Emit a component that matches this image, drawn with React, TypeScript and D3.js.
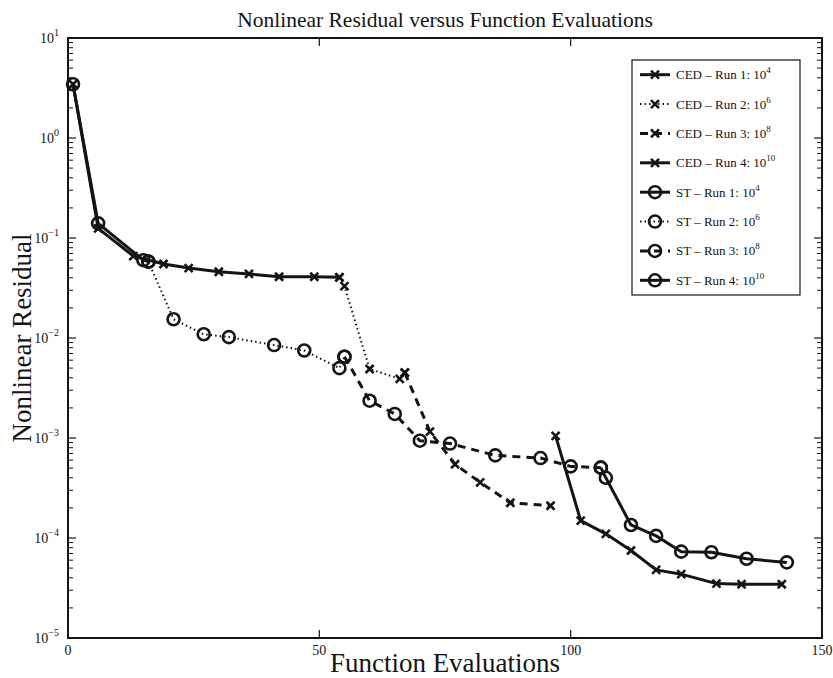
import React from "react";
import * as d3 from "d3";

// Function evaluations (x) and nonlinear residual (y) for every run
const cedRun1Evals = [1, 6, 13, 19, 24, 30, 36, 42, 49, 54];
const cedRun1Resid = [3.45, 0.125, 0.066, 0.055, 0.05, 0.046, 0.0437, 0.041, 0.041, 0.0404];
const cedRun2Evals = [54, 55, 60, 66, 67];
const cedRun2Resid = [0.0404, 0.033, 0.0049, 0.0039, 0.0045];
const cedRun3Evals = [67, 72, 77, 82, 88, 96];
const cedRun3Resid = [0.0045, 0.00116, 0.000546, 0.00036, 0.000225, 0.00021];
const cedRun4Evals = [97, 102, 107, 112, 117, 122, 129, 134, 142];
const cedRun4Resid = [0.00105, 0.000149, 0.00011, 7.5e-5, 4.8e-5, 4.35e-5, 3.5e-5, 3.45e-5, 3.45e-5];

const stRun1Evals = [1, 6, 15, 16];
const stRun1Resid = [3.45, 0.14, 0.06, 0.058];
const stRun2Evals = [16, 21, 27, 32, 41, 47, 54, 55];
const stRun2Resid = [0.058, 0.0154, 0.0109, 0.0102, 0.0085, 0.0075, 0.005, 0.0065];
const stRun3Evals = [55, 60, 65, 70, 76, 85, 94, 100, 106];
const stRun3Resid = [0.0065, 0.00236, 0.00174, 0.00094, 0.00088, 0.00067, 0.00063, 0.00052, 0.000505];
const stRun4Evals = [106, 107, 112, 117, 122, 128, 135, 143];
const stRun4Resid = [0.000505, 0.0004, 0.000135, 0.000105, 7.3e-5, 7.2e-5, 6.2e-5, 5.7e-5];

const runExponents = [4, 6, 8, 10];
const xTicks = [0, 50, 100, 150];
const yDecades = [-5, -4, -3, -2, -1, 0, 1];

const W = 833;
const H = 678;
const M = { left: 68, right: 822, top: 38, bottom: 638 };
const INK = "#141414";
const FONT = "'Liberation Serif', 'Times New Roman', serif";

type Style = "solid" | "dotted" | "dashed";
type Marker = "x" | "o";

interface Series {
  method: string;
  run: number;
  exp: number;
  evals: number[];
  resid: number[];
  style: Style;
  marker: Marker;
}

const styles: Style[] = ["solid", "dotted", "dashed", "solid"];
const cedEvals = [cedRun1Evals, cedRun2Evals, cedRun3Evals, cedRun4Evals];
const cedResid = [cedRun1Resid, cedRun2Resid, cedRun3Resid, cedRun4Resid];
const stEvals = [stRun1Evals, stRun2Evals, stRun3Evals, stRun4Evals];
const stResid = [stRun1Resid, stRun2Resid, stRun3Resid, stRun4Resid];

const series: Series[] = [
  ...cedEvals.map((e, i) => ({
    method: "CED",
    run: i + 1,
    exp: runExponents[i],
    evals: e,
    resid: cedResid[i],
    style: styles[i],
    marker: "x" as Marker,
  })),
  ...stEvals.map((e, i) => ({
    method: "ST",
    run: i + 1,
    exp: runExponents[i],
    evals: e,
    resid: stResid[i],
    style: styles[i],
    marker: "o" as Marker,
  })),
];

function strokeProps(style: Style) {
  if (style === "dotted") return { strokeWidth: 2, strokeDasharray: "1.5,3" };
  if (style === "dashed") return { strokeWidth: 3, strokeDasharray: "8,6" };
  return { strokeWidth: 3, strokeDasharray: undefined };
}

function MarkerGlyph({ kind, cx, cy }: { kind: Marker; cx: number; cy: number }) {
  if (kind === "o") {
    return <circle cx={cx} cy={cy} r={6} fill="none" stroke={INK} strokeWidth={2.6} />;
  }
  const s = 4;
  return (
    <path
      d={`M${cx - s},${cy - s}L${cx + s},${cy + s}M${cx - s},${cy + s}L${cx + s},${cy - s}`}
      stroke={INK}
      strokeWidth={2.6}
      fill="none"
    />
  );
}

export default function App() {
  const x = d3.scaleLinear().domain([0, 150]).range([M.left, M.right]);
  const y = d3.scaleLog().domain([1e-5, 10]).range([M.bottom, M.top]);

  const line = d3
    .line<[number, number]>()
    .x((d) => x(d[0]))
    .y((d) => y(d[1]));

  const minorTicks: number[] = [];
  yDecades.slice(0, -1).forEach((d) => {
    for (let k = 2; k <= 9; k++) minorTicks.push(k * Math.pow(10, d));
  });

  // legend geometry
  const lg = { left: 632, right: 800, top: 60, bottom: 295 };
  const rowStep = (lg.bottom - lg.top) / 8;
  const sample = { x0: 640, x1: 670 };
  const textX = 676;

  return (
    <svg
      width={W}
      height={H}
      style={{ position: "absolute", left: 0, top: 0, background: "#fff" }}
      fontFamily={FONT}
    >
      <rect width={W} height={H} fill="#fff" />

      {/* title */}
      <text x={(M.left + M.right) / 2} y={27} textAnchor="middle" fontSize={21.5} fill={INK}>
        Nonlinear Residual versus Function Evaluations
      </text>

      {/* data lines */}
      {series.map((s, i) => {
        const pts = s.evals.map((e, j) => [e, s.resid[j]] as [number, number]);
        const sp = strokeProps(s.style);
        return (
          <g key={`s${i}`}>
            <path
              d={line(pts) || ""}
              fill="none"
              stroke={INK}
              strokeWidth={sp.strokeWidth}
              strokeDasharray={sp.strokeDasharray}
              strokeLinejoin="round"
            />
            {pts.map((p, j) => (
              <MarkerGlyph key={j} kind={s.marker} cx={x(p[0])} cy={y(p[1])} />
            ))}
          </g>
        );
      })}

      {/* axes frame */}
      <rect
        x={M.left}
        y={M.top}
        width={M.right - M.left}
        height={M.bottom - M.top}
        fill="none"
        stroke={INK}
        strokeWidth={2}
      />

      {/* x ticks */}
      {xTicks.map((t) => (
        <g key={`xt${t}`}>
          <line x1={x(t)} x2={x(t)} y1={M.bottom} y2={M.bottom - 8} stroke={INK} strokeWidth={1.2} />
          <line x1={x(t)} x2={x(t)} y1={M.top} y2={M.top + 8} stroke={INK} strokeWidth={1.2} />
          <text x={x(t)} y={M.bottom + 17} textAnchor="middle" fontSize={14} fill={INK}>
            {t}
          </text>
        </g>
      ))}

      {/* y ticks */}
      {yDecades.map((d) => {
        const v = Math.pow(10, d);
        return (
          <g key={`yt${d}`}>
            <line x1={M.left} x2={M.left + 8} y1={y(v)} y2={y(v)} stroke={INK} strokeWidth={1.2} />
            <line x1={M.right} x2={M.right - 8} y1={y(v)} y2={y(v)} stroke={INK} strokeWidth={1.2} />
            <text x={M.left - 9} y={y(v) + 5} textAnchor="end" fontSize={14} fill={INK}>
              10
              <tspan dy={-7} fontSize={10}>
                {d < 0 ? `\u2212${-d}` : `${d}`}
              </tspan>
            </text>
          </g>
        );
      })}
      {minorTicks.map((v, i) => (
        <g key={`ym${i}`}>
          <line x1={M.left} x2={M.left + 5} y1={y(v)} y2={y(v)} stroke={INK} strokeWidth={1} />
          <line x1={M.right} x2={M.right - 5} y1={y(v)} y2={y(v)} stroke={INK} strokeWidth={1} />
        </g>
      ))}

      {/* axis labels */}
      <text x={(M.left + M.right) / 2} y={672} textAnchor="middle" fontSize={27} fill={INK}>
        Function Evaluations
      </text>
      <text
        transform={`translate(31,${(M.top + M.bottom) / 2}) rotate(-90)`}
        textAnchor="middle"
        fontSize={27}
        fill={INK}
      >
        Nonlinear Residual
      </text>

      {/* legend */}
      <rect
        x={lg.left}
        y={lg.top}
        width={lg.right - lg.left}
        height={lg.bottom - lg.top}
        fill="#fff"
        stroke={INK}
        strokeWidth={1.2}
      />
      {series.map((s, i) => {
        const cy = lg.top + rowStep * (i + 0.5);
        const sp = strokeProps(s.style);
        return (
          <g key={`lg${i}`}>
            <line
              x1={sample.x0}
              x2={sample.x1}
              y1={cy}
              y2={cy}
              stroke={INK}
              strokeWidth={sp.strokeWidth}
              strokeDasharray={sp.strokeDasharray}
            />
            <MarkerGlyph kind={s.marker} cx={(sample.x0 + sample.x1) / 2} cy={cy} />
            <text x={textX} y={cy + 4.5} fontSize={13} fill={INK}>
              {`${s.method} \u2013 Run ${s.run}: 10`}
              <tspan dy={-6} fontSize={9}>
                {s.exp}
              </tspan>
            </text>
          </g>
        );
      })}
    </svg>
  );
}
